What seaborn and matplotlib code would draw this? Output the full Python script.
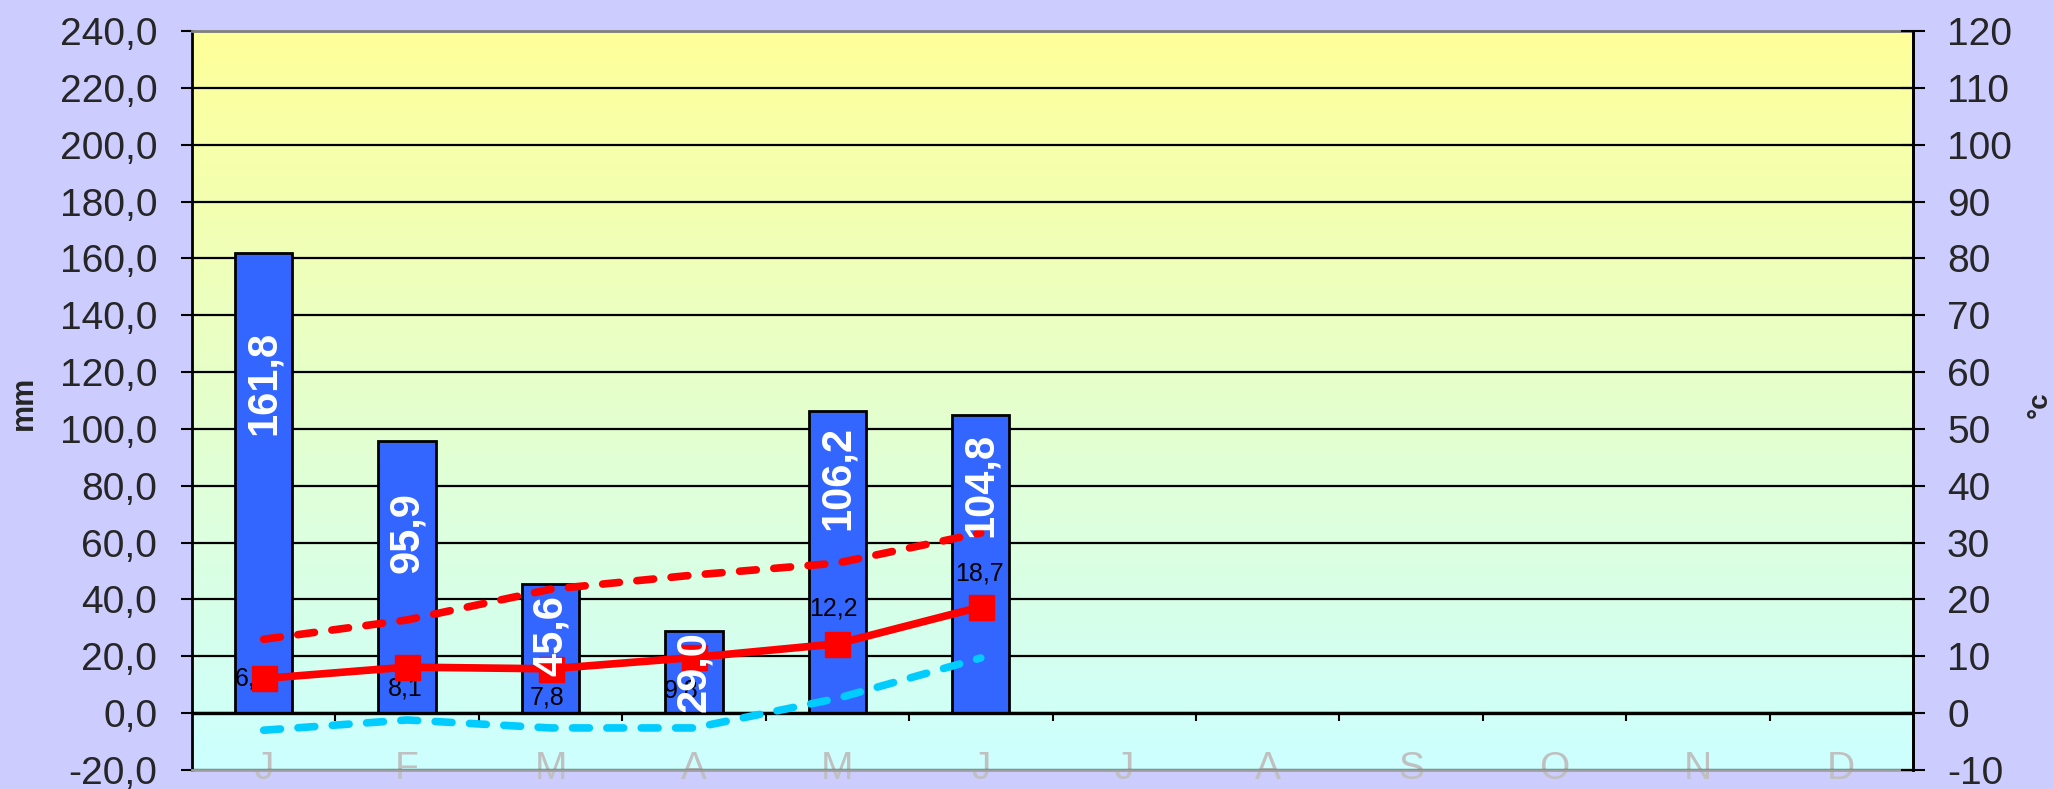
import matplotlib
matplotlib.use('Agg')

import numpy as np
import pandas as pd
import matplotlib.pyplot as plt
import seaborn as sns
from matplotlib.colors import LinearSegmentedColormap
from matplotlib.ticker import FuncFormatter

# --- data ---
months = ["Jan", "Feb", "Mar", "Apr", "May", "Jun",
          "Jul", "Aug", "Sep", "Oct", "Nov", "Dec"]
month_letters = ["J", "F", "M", "A", "M", "J", "J", "A", "S", "O", "N", "D"]
precip_mm = [161.8, 95.9, 45.6, 29.0, 106.2, 104.8]
temp_mean = [6.1, 8.1, 7.8, 9.8, 12.2, 18.7]
temp_max = [13.0, 16.4, 21.8, 24.3, 26.4, 31.7]
temp_min = [-3.0, -1.2, -2.6, -2.6, 2.6, 9.7]

mm_ticks = np.arange(-20, 241, 20)
deg_ticks = np.arange(-10, 121, 10)

# label placement (pixels), styling only
bar_label_drop = [78, 52, 12, 0, 15, 18]
temp_label_offset = [(-12, 0), (-2, -21), (-3, -29), (-13, -33), (-4, 35), (-1, 33)]

sns.set_theme(style="white")
plt.rcParams['font.family'] = ['Liberation Sans', 'DejaVu Sans']

fig = plt.figure(figsize=(20.54, 7.89), dpi=100, facecolor="#CCCCFF")
ax = fig.add_axes([192 / 2054, 1 - 770 / 789, (1913 - 192) / 2054, (770 - 31) / 789])

# gradient background, yellow at top to pale cyan at bottom
grad = LinearSegmentedColormap.from_list("bg", ["#FFFF99", "#CCFFFF"])
ax.imshow(np.linspace(0, 1, 256).reshape(-1, 1), cmap=grad, aspect="auto",
          extent=[0, 1, 0, 1], transform=ax.transAxes, zorder=0)

df = pd.DataFrame({"month": months[:len(precip_mm)], "precip": precip_mm})
sns.barplot(data=df, x="month", y="precip", order=months, color="#3366FF",
            saturation=1, edgecolor="black", linewidth=2, width=0.4, ax=ax, zorder=2)

ax.set_xlim(-0.5, 11.5)
ax.set_ylim(-20, 240)
ax.set_yticks(mm_ticks)
ax.yaxis.set_major_formatter(FuncFormatter(lambda v, p: f"{v:.1f}".replace(".", ",")))
ax.set_xticks(range(12))
ax.set_xticklabels(month_letters)
ax.set_xlabel("")
ax.set_ylabel("")
ax.tick_params(axis="x", length=0, pad=-14, labelsize=28, labelcolor="#C0C0C0")
ax.tick_params(axis="y", direction="out", length=8, width=1.5, pad=17,
               labelsize=28, color="black", left=True)
ax.grid(axis="y", color="black", linewidth=1.6, zorder=1)
ax.set_axisbelow(True)
ax.axhline(0, color="black", linewidth=2.4, zorder=2.2)
ax.vlines(np.arange(1, 12) - 0.5, -2.8, 0, color="black", linewidth=1.5, zorder=2.2)

for side, col in [("left", "black"), ("top", "#808080"), ("bottom", "#A0A0A0"), ("right", "black")]:
    ax.spines[side].set_color(col)
    ax.spines[side].set_linewidth(2)

# temperature axis
ax2 = ax.twinx()
ax2.set_ylim(-10, 120)
ax2.set_yticks(deg_ticks)
ax2.set_yticklabels([str(t) for t in deg_ticks])
ax2.tick_params(axis="y", direction="inout", length=17, width=1.5, pad=16,
                labelsize=28, color="black", right=True)
ax2.grid(False)
for side in ["left", "top", "bottom"]:
    ax2.spines[side].set_visible(False)
ax2.spines["right"].set_color("black")
ax2.spines["right"].set_linewidth(2)

x = np.arange(len(temp_mean))
ax2.plot(x, temp_max, color="#FF0000", linewidth=5.5, linestyle=(0, (2.2, 2.3)),
         dash_capstyle="round", zorder=3)
ax2.plot(x, temp_min, color="#00CCFF", linewidth=5.5, linestyle=(0, (2.2, 2.3)),
         dash_capstyle="round", zorder=3)
ax2.plot(x, temp_mean, color="#FF0000", linewidth=5.5, marker="s", markersize=18,
         markeredgecolor="#FF0000", zorder=4)

for xi, t, off in zip(x, temp_mean, temp_label_offset):
    ax2.annotate(f"{t:.1f}".replace(".", ","), xy=(xi, t), xytext=off,
                 textcoords="offset pixels", ha="center", va="center",
                 fontsize=18, color="black", zorder=3.5)

# precipitation labels drawn above the lines
for patch, v, drop in zip(ax.patches, precip_mm, bar_label_drop):
    cx = patch.get_x() + patch.get_width() / 2
    ax2.annotate(f"{v:.1f}".replace(".", ","), xy=(cx, v), xycoords=ax.transData,
                 xytext=(0, -drop), textcoords="offset pixels", rotation=90,
                 ha="center", va="top", fontsize=30, fontweight="bold",
                 color="white", zorder=6)

fig.text(24 / 2054, 1 - 403 / 789, "mm", rotation=90, ha="center", va="center",
         fontsize=22, fontweight="bold")
fig.text(2040 / 2054, 1 - 405 / 789, "°c", rotation=90, ha="center", va="center",
         fontsize=20, fontweight="bold")

fig.savefig("out.png", dpi=100, facecolor=fig.get_facecolor())
